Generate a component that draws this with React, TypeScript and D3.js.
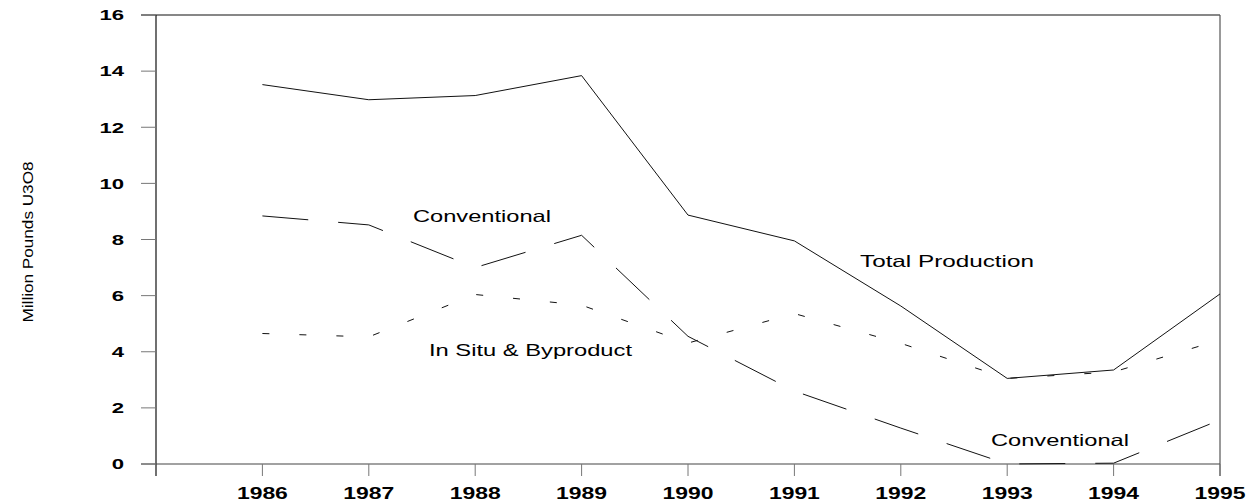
import React from "react";
import * as d3 from "d3";

const years = [1986, 1987, 1988, 1989, 1990, 1991, 1992, 1993, 1994, 1995];
const totalProduction = [13.52, 12.98, 13.13, 13.84, 8.87, 7.95, 5.63, 3.05, 3.35, 6.06];
const conventional = [8.84, 8.52, 7.0, 8.15, 4.55, 2.6, 1.28, 0.0, 0.03, 1.57];
const inSitu = [4.65, 4.53, 6.04, 5.66, 4.31, 5.36, 4.3, 3.05, 3.28, 4.42];
const yTicks = [0, 2, 4, 6, 8, 10, 12, 14, 16];

const W = 1252;
const H = 502;
const left = 156;
const right = 1220;
const top = 15;
const bottom = 464;

const FONT = "'Liberation Sans', Arial, Helvetica, sans-serif";

export default function App() {
  const x = d3.scaleLinear().domain([1985, 1995]).range([left, right]);
  const y = d3.scaleLinear().domain([0, 16]).range([bottom, top]);

  const line = d3
    .line<number>()
    .x((_, i) => x(years[i]))
    .y((d) => y(d));

  return (
    <svg
      width={W}
      height={H}
      style={{ position: "absolute", left: 0, top: 0, background: "#fff" }}
      fontFamily={FONT}
    >
      {/* frame */}
      <line x1={left - 15} x2={right} y1={top} y2={top} stroke="#111" strokeWidth={1.2} />
      <line x1={left} x2={left} y1={top} y2={bottom + 12} stroke="#111" strokeWidth={1.2} />
      <line x1={right} x2={right} y1={top} y2={bottom + 12} stroke="#555" strokeWidth={1.2} />
      <line x1={left - 15} x2={right} y1={bottom} y2={bottom} stroke="#444" strokeWidth={1.2} />

      {/* y ticks */}
      {yTicks.map((t) => (
        <g key={"y" + t}>
          <line x1={left - 15} x2={left} y1={y(t)} y2={y(t)} stroke="#777" strokeWidth={1} />
          <text
            x={124}
            y={y(t)}
            dy="0.35em"
            textAnchor="end"
            fontSize={15}
            fontWeight="bold"
            textLength={String(t).length * 12.3}
            lengthAdjust="spacingAndGlyphs"
          >
            {t}
          </text>
        </g>
      ))}

      {/* x ticks */}
      {years.map((yr) => (
        <g key={"x" + yr}>
          <line x1={x(yr)} x2={x(yr)} y1={bottom} y2={bottom + 12} stroke="#777" strokeWidth={1} />
          <text
            x={x(yr)}
            y={499}
            textAnchor="middle"
            fontSize={16.5}
            fontWeight="bold"
            textLength={51}
            lengthAdjust="spacingAndGlyphs"
          >
            {yr}
          </text>
        </g>
      ))}

      {/* y title */}
      <text
        transform={`translate(33,242) rotate(-90)`}
        textAnchor="middle"
        fontSize={14}
        textLength={161}
        lengthAdjust="spacingAndGlyphs"
      >
        Million Pounds U3O8
      </text>

      {/* series */}
      <path d={line(totalProduction) || ""} fill="none" stroke="#111" strokeWidth={1} />
      <path
        d={line(conventional) || ""}
        fill="none"
        stroke="#111"
        strokeWidth={1}
        strokeDasharray="46,30"
      />
      <path
        d={line(inSitu) || ""}
        fill="none"
        stroke="#111"
        strokeWidth={1}
        strokeDasharray="7,30"
      />

      {/* labels */}
      <text x={413} y={222} fontSize={16.5} textLength={138} lengthAdjust="spacingAndGlyphs">
        Conventional
      </text>
      <text x={429} y={356} fontSize={16.5} textLength={203} lengthAdjust="spacingAndGlyphs">
        In Situ &amp; Byproduct
      </text>
      <text x={860} y={267} fontSize={16.5} textLength={174} lengthAdjust="spacingAndGlyphs">
        Total Production
      </text>
      <text x={991} y={446} fontSize={16.5} textLength={138} lengthAdjust="spacingAndGlyphs">
        Conventional
      </text>
    </svg>
  );
}
